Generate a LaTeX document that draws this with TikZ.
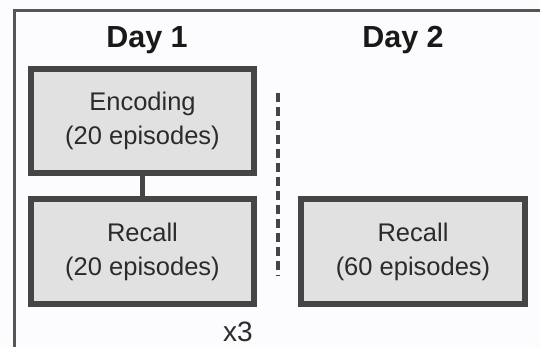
\documentclass[tikz,border=0pt]{standalone}
\usepackage{fontspec}
\setmainfont{Liberation Sans}
\definecolor{framegray}{HTML}{555555}
\definecolor{boxgray}{HTML}{454545}
\definecolor{boxfill}{HTML}{E1E1E1}
\definecolor{textgray}{HTML}{2B2B2B}
\definecolor{paper}{HTML}{FCFCFE}
\tikzset{
	daybox/.style={draw=boxgray, line width=6pt, fill=boxfill, minimum width=223pt,
		minimum height=104pt, align=center, text=textgray, inner sep=0pt,
		font=\fontsize{25.5}{34}\selectfont},
	daytitle/.style={font=\fontsize{30.5}{35}\selectfont\bfseries, text=black!90}
}
\begin{document}
\begin{tikzpicture}[x=1pt,y=-1pt]
\fill[paper] (0,0) rectangle (540,347);
\useasboundingbox (0,0) rectangle (540,347);

% frame
\draw[framegray, line width=3pt] (14,347) -- (14,11) -- (540,11);

\node[daytitle] (day1) at (147,40) {Day 1};
\node[daytitle] (day2) at (403,40) {Day 2};

\node[daybox] (enc) at (142.5,121) {Encoding\\(20 episodes)};
\node[daybox] (rec1) at (142.5,251.5) {Recall\\(20 episodes)};
\node[daybox, minimum width=224pt] (rec2) at (413,251.5) {Recall\\(60 episodes)};

\draw[boxgray, line width=5pt] (enc.south) -- (rec1.north);

\node[font=\fontsize{28}{32}\selectfont, text=textgray] (rep) at (238,332) {x3};

% day separator
\coordinate (septop) at (278,93);
\coordinate (sepbot) at (278,276);
\draw[boxgray, line width=3.5pt, dash pattern=on 9pt off 5pt] (septop) -- (sepbot);
\end{tikzpicture}
\end{document}
